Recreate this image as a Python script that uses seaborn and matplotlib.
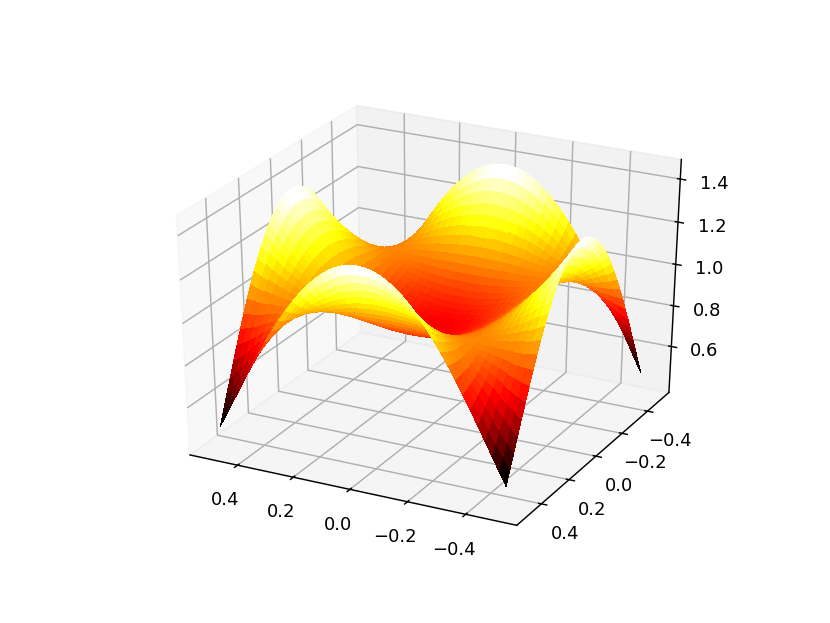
import numpy as np
import matplotlib
matplotlib.use("Agg")
import matplotlib.pyplot as plt
import seaborn as sns

# Distance from the centre along each axis
offsets = [0.0, 0.025, 0.05, 0.075, 0.10, 0.125, 0.15, 0.175, 0.20, 0.225, 0.25,
           0.275, 0.30, 0.325, 0.35, 0.375, 0.40, 0.425, 0.45, 0.475, 0.50]

# Heights for one octant of the surface, which looks
# mirrored in both axes and across the diagonal: row i lists columns i, i+1, ...
heights_octant = [
    [0.830, 0.831, 0.835, 0.842, 0.852, 0.864, 0.879, 0.896, 0.916, 0.939, 0.965, 0.993, 1.024, 1.058, 1.095, 1.134, 1.176, 1.220, 1.267, 1.317, 1.370],
    [0.833, 0.837, 0.843, 0.853, 0.865, 0.880, 0.897, 0.917, 0.940, 0.965, 0.993, 1.024, 1.058, 1.094, 1.133, 1.174, 1.218, 1.265, 1.315, 1.367],
    [0.841, 0.847, 0.856, 0.868, 0.882, 0.899, 0.919, 0.941, 0.966, 0.993, 1.023, 1.056, 1.091, 1.129, 1.170, 1.213, 1.259, 1.308, 1.359],
    [0.853, 0.862, 0.873, 0.887, 0.903, 0.922, 0.943, 0.967, 0.993, 1.022, 1.053, 1.087, 1.124, 1.163, 1.204, 1.249, 1.296, 1.345],
    [0.870, 0.881, 0.894, 0.909, 0.926, 0.946, 0.968, 0.993, 1.020, 1.050, 1.082, 1.116, 1.153, 1.192, 1.234, 1.279, 1.326],
    [0.890, 0.902, 0.916, 0.932, 0.950, 0.970, 0.993, 1.018, 1.045, 1.075, 1.106, 1.140, 1.177, 1.216, 1.257, 1.301],
    [0.912, 0.925, 0.939, 0.955, 0.973, 0.993, 1.015, 1.040, 1.066, 1.095, 1.125, 1.158, 1.194, 1.232, 1.272],
    [0.935, 0.947, 0.961, 0.976, 0.993, 1.012, 1.033, 1.056, 1.081, 1.108, 1.137, 1.168, 1.201, 1.237],
    [0.956, 0.967, 0.980, 0.994, 1.009, 1.026, 1.045, 1.066, 1.088, 1.112, 1.139, 1.167, 1.198],
    [0.975, 0.984, 0.994, 1.006, 1.019, 1.033, 1.049, 1.066, 1.085, 1.106, 1.129, 1.154],
    [0.989, 0.995, 1.002, 1.010, 1.020, 1.030, 1.042, 1.055, 1.071, 1.087, 1.106],
    [0.997, 0.999, 1.002, 1.006, 1.010, 1.016, 1.023, 1.032, 1.042, 1.055],
    [0.996, 0.993, 0.991, 0.990, 0.989, 0.990, 0.991, 0.995, 1.000],
    [0.985, 0.976, 0.968, 0.961, 0.954, 0.948, 0.944, 0.942],
    [0.961, 0.946, 0.931, 0.917, 0.904, 0.892, 0.881],
    [0.924, 0.901, 0.879, 0.858, 0.837, 0.818],
    [0.871, 0.841, 0.811, 0.782, 0.754],
    [0.802, 0.763, 0.725, 0.688],
    [0.716, 0.668, 0.622],
    [0.612, 0.556],
    [0.491],
]
z_ticks = [0.6, 0.8, 1.0, 1.2, 1.4]

q = np.zeros((len(offsets), len(offsets)))
for i, row in enumerate(heights_octant):
    q[i, i:] = row
    q[i:, i] = row
right = np.hstack([q[:, :0:-1], q])
Z = np.vstack([right[:0:-1], right])
axis_values = np.array([-v for v in offsets[:0:-1]] + offsets)
X, Y = np.meshgrid(axis_values, axis_values)

sns.reset_orig()
cmap = sns.color_palette("hot", as_cmap=True)

fig = plt.figure(figsize=(830 / 130, 623 / 130), dpi=130)
ax = fig.add_subplot(projection="3d")
ax.plot_surface(X, Y, Z, cmap=cmap, rstride=1, cstride=1, linewidth=0, antialiased=False)
ax.view_init(elev=30, azim=117)
ax.set_zlim(0.37, 1.49)
ax.set_zticks(z_ticks)
ax.set_box_aspect((1, 1, 1), zoom=0.955)
ax.apply_aspect = lambda position=None: None
ax._set_position(ax.get_position(original=True), "active")
fig.savefig("out.png", dpi=130)
